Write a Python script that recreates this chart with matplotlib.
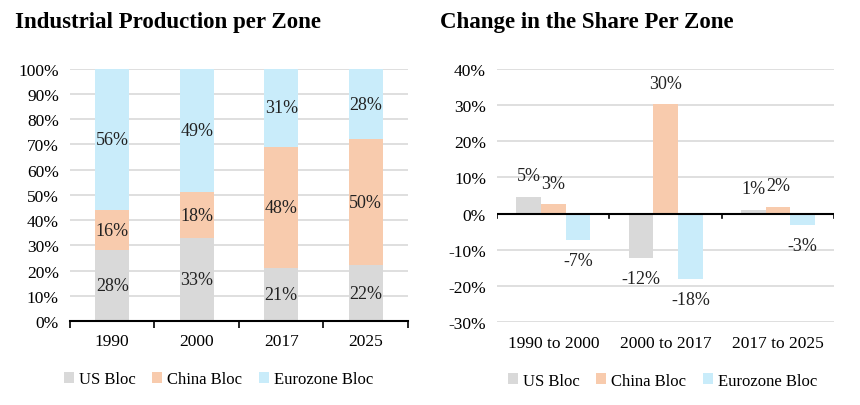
import numpy as np
import matplotlib.pyplot as plt
from matplotlib.ticker import PercentFormatter

years = ["1990", "2000", "2017", "2025"]
us_share = [28, 33, 21, 22]
china_share = [16, 18, 48, 50]
euro_share = [56, 49, 31, 28]

periods = ["1990 to 2000", "2000 to 2017", "2017 to 2025"]
us_change = [4.6, -12.2, 1.0]
china_change = [2.6, 30.2, 1.9]
euro_change = [-7.2, -18.0, -3.1]

series = ["US Bloc", "China Bloc", "Eurozone Bloc"]
colors = ["#d9d9d9", "#f8cbad", "#c9ecfa"]

plt.rcParams['font.family'] = ['Liberation Serif', 'DejaVu Serif']
plt.rcParams['axes.unicode_minus'] = False

fig = plt.figure(figsize=(8.6, 4.06), dpi=100)
ax1 = fig.add_axes([0.0814, 0.207, 0.393, 0.621])
ax2 = fig.add_axes([0.578, 0.204, 0.392, 0.624])

# left: stacked shares
x = np.arange(len(years))
bottom = np.zeros(len(years))
for name, vals, c in zip(series, [us_share, china_share, euro_share], colors):
    bars = ax1.bar(x, vals, 0.4, bottom=bottom, color=c, label=name, zorder=2)
    for b, v in zip(bars, vals):
        ax1.text(b.get_x() + b.get_width() / 2, b.get_y() + v / 2, "%d%%" % v,
                 ha="center", va="center", fontsize=13, color="#222222", zorder=3)
    bottom += np.array(vals)

ax1.set_xlim(-0.5, len(years) - 0.5)
ax1.set_ylim(0, 100)
ax1.set_yticks(np.arange(0, 101, 10))
ax1.yaxis.set_major_formatter(PercentFormatter(decimals=0))
ax1.set_xticks(x)
ax1.set_xticklabels(years)
ax1.set_xticks(np.arange(-0.5, len(years), 1), minor=True)
ax1.tick_params(axis="x", which="major", length=0, pad=9, labelsize=12.5)
ax1.tick_params(axis="x", which="minor", length=5, width=1.2, direction="out")
ax1.tick_params(axis="y", length=0, labelsize=12.5, pad=8)
ax1.grid(axis="y", color="#d9d9d9", linewidth=1.2, zorder=0)
for s in ["top", "right", "left"]:
    ax1.spines[s].set_visible(False)
ax1.spines["bottom"].set_linewidth(1.5)
ax1.spines["bottom"].set_zorder(4)
fig.text(0.017, 0.945, "Industrial Production per Zone", fontsize=16.5,
         fontweight="bold", va="center")
ax1.legend(loc="upper center", bbox_to_anchor=(0.44, -0.14), ncol=3, frameon=False,
           fontsize=12, handlelength=0.6, handleheight=0.6, handletextpad=0.3,
           columnspacing=1.0)

# right: change in share
x2 = np.arange(len(periods))
w = 0.22
for i, (name, vals, c) in enumerate(zip(series, [us_change, china_change, euro_change], colors)):
    bars = ax2.bar(x2 + (i - 1) * w, vals, w, color=c, label=name, zorder=2)
    for b, v in zip(bars, vals):
        off = 9 if v >= 0 else -9
        ax2.annotate("%.0f%%" % v, (b.get_x() + b.get_width() / 2, v),
                     xytext=(0, off), textcoords="offset points", ha="center",
                     va="bottom" if v >= 0 else "top", fontsize=13, color="#222222")

ax2.set_xlim(-0.5, len(periods) - 0.5)
ax2.set_ylim(-30, 40)
ax2.set_yticks(np.arange(-30, 41, 10))
ax2.yaxis.set_major_formatter(PercentFormatter(decimals=0))
ax2.set_xticks(x2)
ax2.set_xticklabels(periods)
ax2.tick_params(axis="x", which="major", length=0, pad=9, labelsize=12.5)
ax2.tick_params(axis="y", length=0, labelsize=12.5, pad=8)
ax2.grid(axis="y", color="#d9d9d9", linewidth=1.2, zorder=0)
for s in ["top", "right", "left", "bottom"]:
    ax2.spines[s].set_visible(False)
ax2.axhline(0, color="black", linewidth=1.5, zorder=4)
for xb in np.arange(-0.5, len(periods), 1):
    ax2.plot([xb, xb], [0, -1.3], color="black", linewidth=1.2, zorder=4)
fig.text(0.512, 0.945, "Change in the Share Per Zone", fontsize=16.5,
         fontweight="bold", va="center")
ax2.legend(loc="upper center", bbox_to_anchor=(0.49, -0.14), ncol=3, frameon=False,
           fontsize=12, handlelength=0.6, handleheight=0.6, handletextpad=0.3,
           columnspacing=1.0)

fig.savefig("out.png", dpi=100)
